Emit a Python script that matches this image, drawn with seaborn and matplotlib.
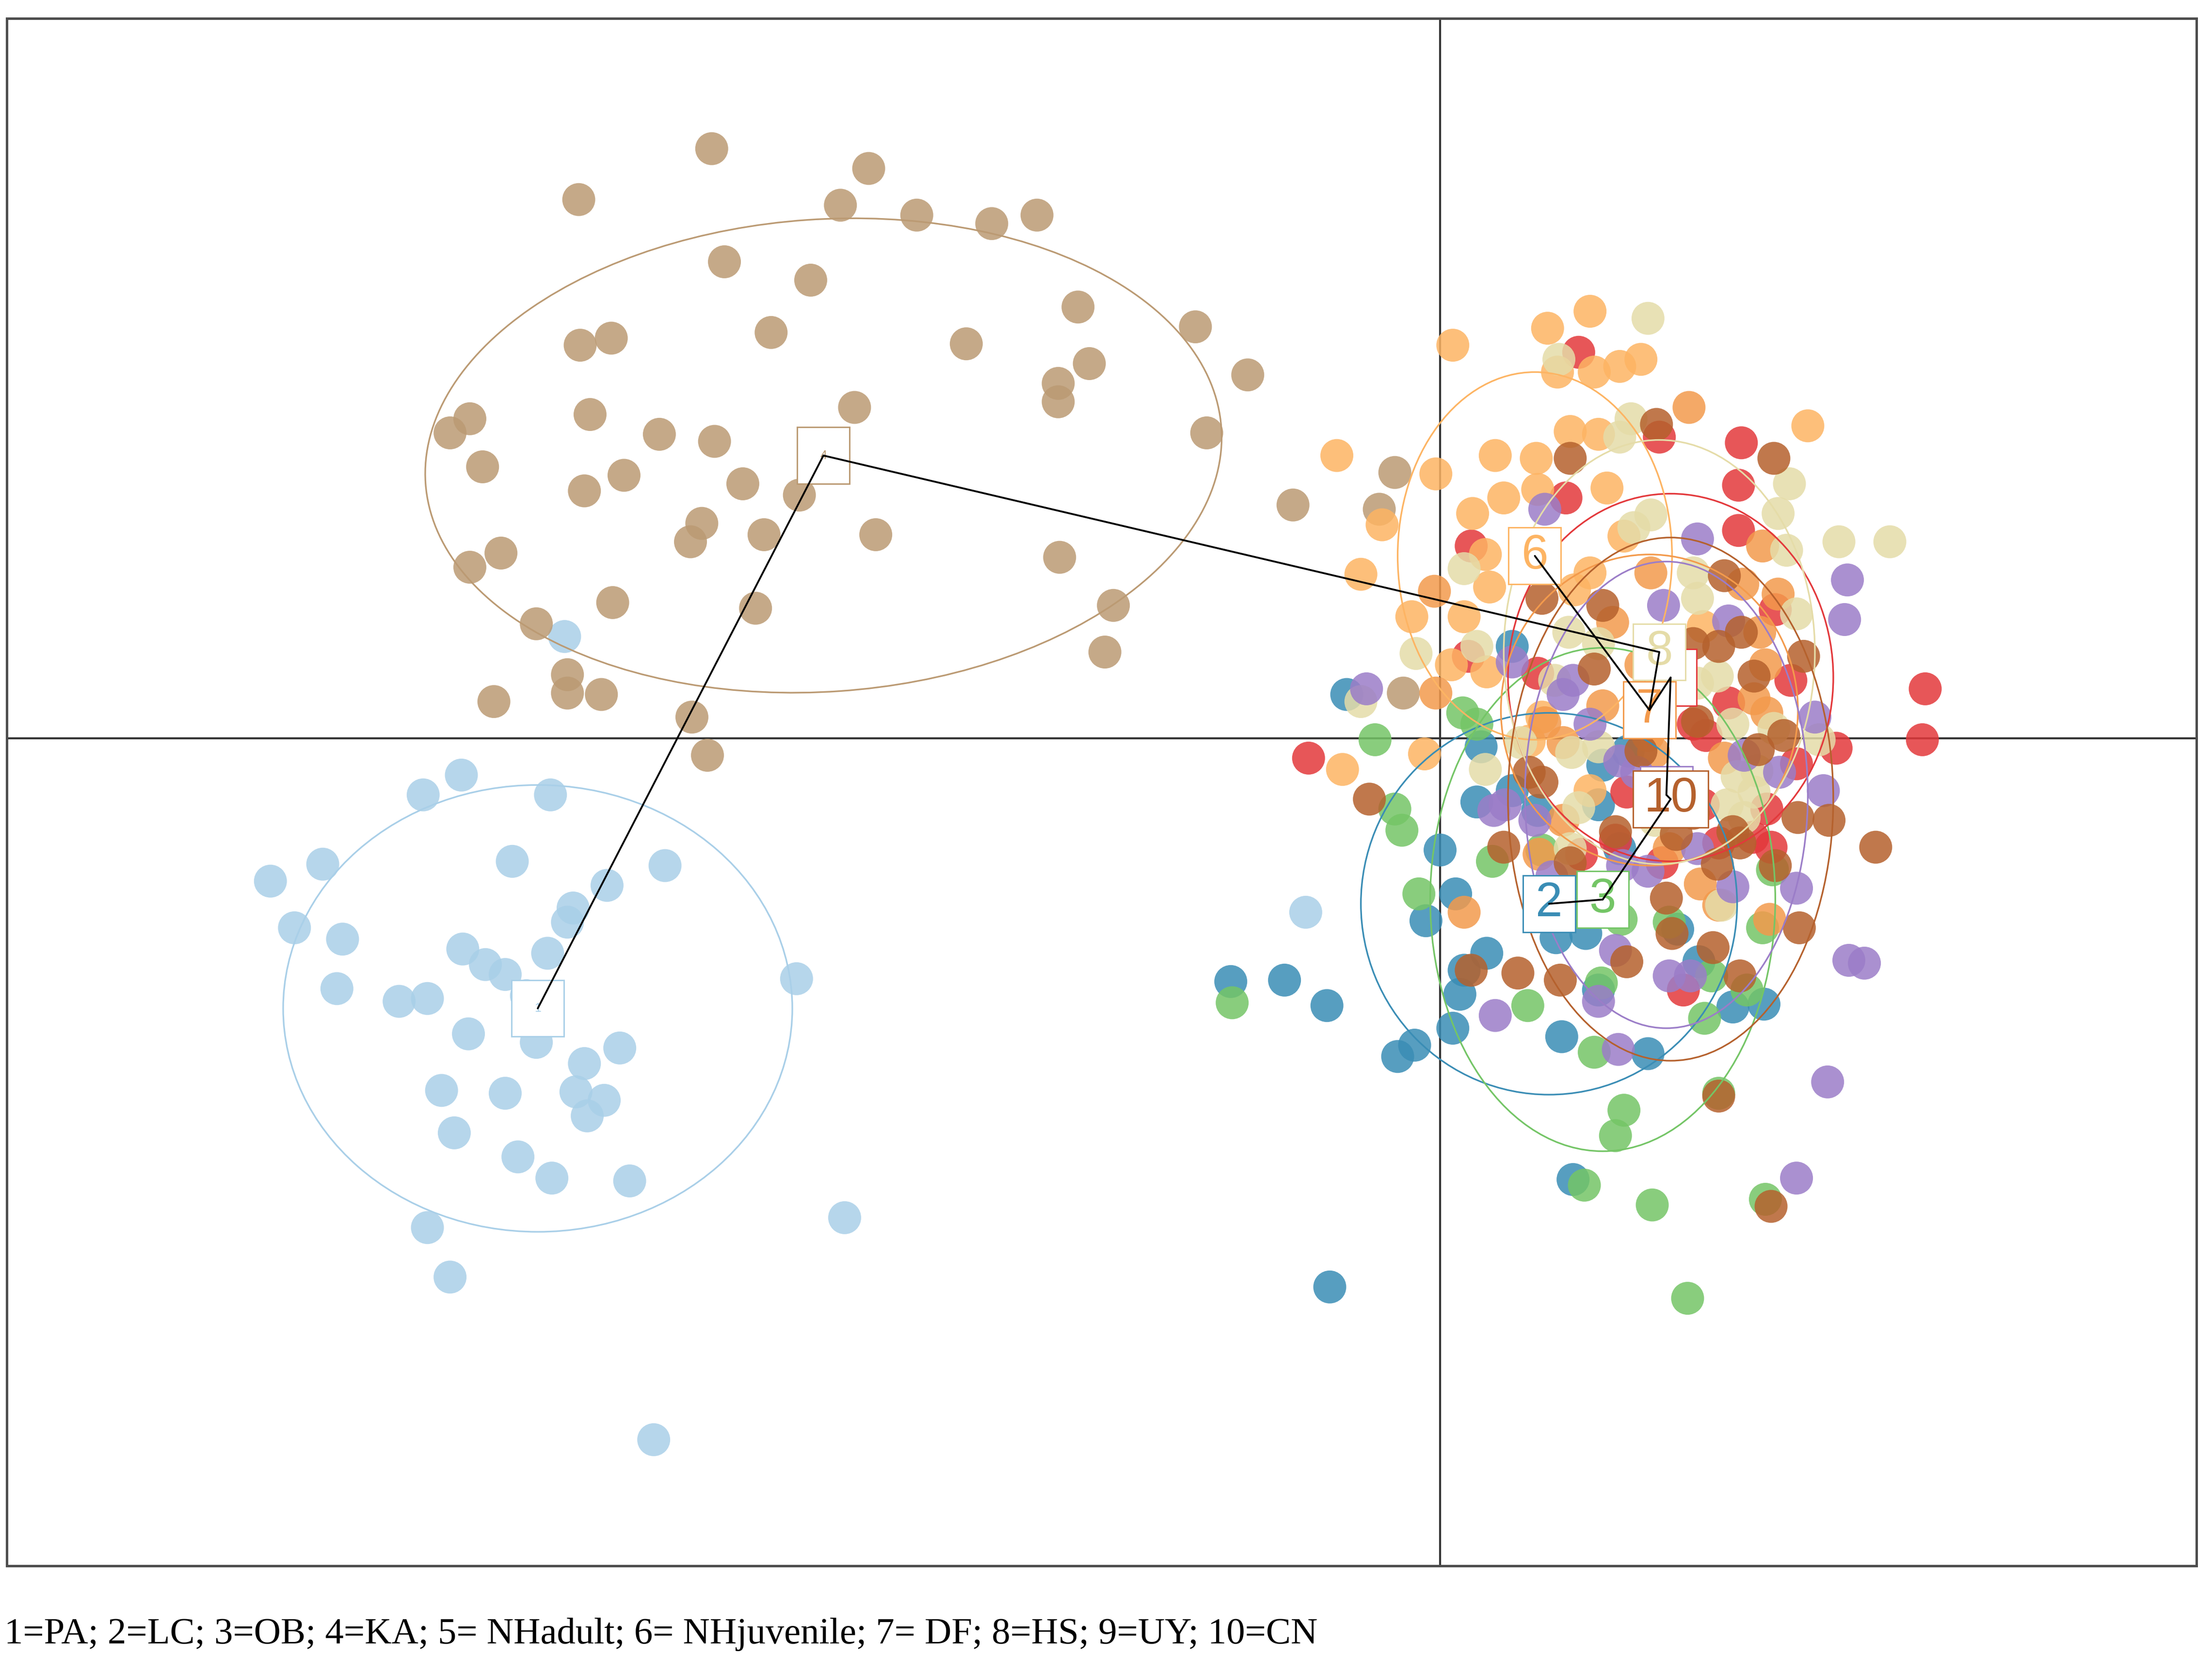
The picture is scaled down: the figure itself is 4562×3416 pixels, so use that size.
import numpy as np
import pandas as pd
import matplotlib
matplotlib.use("Agg")
import matplotlib.pyplot as plt
from matplotlib.patches import Ellipse, Rectangle
import seaborn as sns

# groupes (1..10) et couleurs
groups = ["1", "2", "3", "4", "5", "6", "7", "8", "9", "10"]
colors = ["#a9cfe8", "#3a8db5", "#74c566", "#bb9a73", "#e3383b",
          "#fdb463", "#f39a4c", "#e5dca8", "#9b7dc8", "#b5612d"]

# 1 = PA
pa_ld1 = [-6.19, -6.92, -7.19, -6.29, -8.27, -7.90, -6.56, -5.48, -5.89, -8.10,
          -7.76, -6.13, -6.17, -6.91, -6.75, -6.31, -6.61, -7.80, -7.36, -7.16,
          -6.46, -4.55, -6.87, -6.39, -5.80, -6.05, -7.06, -6.61, -6.11, -5.91,
          -6.03, -6.97, -6.52, -6.28, -5.73, -7.16, -7.00, -4.21, -5.56, -0.95]
pa_ld2 = [0.72, -0.26, -0.40, -0.40, -1.01, -0.89, -0.87, -0.90, -1.04, -1.34,
          -1.42, -1.20, -1.30, -1.49, -1.60, -1.52, -1.67, -1.77, -1.86, -1.84,
          -1.82, -1.70, -2.09, -2.15, -2.19, -2.30, -2.49, -2.51, -2.50, -2.56,
          -2.67, -2.79, -2.96, -3.11, -3.13, -3.46, -3.81, -3.39, -4.96, -1.23]

# 2 = LC
lc_ld1 = [-0.66, 0.29, 0.51, 0.51, 0.69, 1.15, 0.26, 0.00, 0.11, -0.10,
          -1.48, -1.10, -0.80, 0.14, 0.17, 0.33, 0.82, 1.03, 1.12, -0.18,
          -0.30, 0.09, 0.86, 2.29, 2.07, 1.47, 0.94, -0.78, 1.83, 1.27,
          1.12, 1.33, 1.68]
lc_ld2 = [0.31, -0.06, 0.65, -0.37, -0.51, -0.19, -0.45, -0.79, -1.10, -1.29,
          -1.72, -1.71, -1.89, -1.81, -1.64, -1.52, -1.41, -1.38, -1.78, -2.17,
          -2.25, -2.05, -2.11, -1.88, -1.90, -2.23, -3.12, -3.88, -1.58, -0.78,
          -0.47, -0.09, -1.35]

# 3 = OB
ob_ld1 = [-0.46, -0.32, -0.27, 0.16, 0.26, 0.72, 0.37, -0.15, 0.62, 1.14,
          1.28, 1.62, 2.35, -1.47, 1.09, 1.30, 1.24, 1.97, 1.50, 1.02,
          1.75, 1.92, 2.17, 1.87, 2.28, 2.30]
ob_ld2 = [-0.01, -0.50, -0.65, 0.18, 0.10, -0.79, -0.87, -1.10, -1.89, -1.73,
          -1.28, -1.30, -0.93, -1.87, -2.22, -2.63, -2.81, -2.51, -3.30, -3.16,
          -3.96, -1.68, -1.78, -1.98, -1.34, -3.26]

# 4 = KA
ka_ld1 = [-5.15, -4.04, -6.09, -4.24, -3.70, -3.17, -2.85, -5.06, -4.45, -2.56,
          -1.73, -4.73, -6.08, -5.86, -3.35, -2.48, -1.36, -2.70, -2.70, -6.86,
          -7.00, -6.01, -4.14, -5.52, -5.13, -1.65, -6.77, -6.05, -5.77, -4.93,
          -4.53, -5.22, -5.30, -4.78, -3.99, -6.64, -6.86, -2.69, -1.04, -5.85,
          -4.84, -2.31, -6.39, -2.37, -6.17, -5.93, -6.17, -6.69, -5.29, -5.18,
          -0.32, -0.43, -0.26]
ka_ld2 = [4.17, 4.03, 3.81, 3.77, 3.70, 3.64, 3.70, 3.37, 3.24, 3.05,
          2.91, 2.87, 2.78, 2.83, 2.79, 2.65, 2.57, 2.51, 2.38, 2.26,
          2.16, 2.29, 2.34, 2.15, 2.10, 2.16, 1.92, 1.75, 1.86, 1.80,
          1.72, 1.52, 1.39, 1.44, 1.44, 1.31, 1.21, 1.28, 1.65, 0.96,
          0.92, 0.94, 0.81, 0.61, 0.45, 0.31, 0.32, 0.26, 0.15, -0.12,
          1.88, 1.62, 0.32]

# 5 = NHadult
nha_ld1 = [0.98, 1.55, 2.13, 2.11, 0.89, 2.11, 0.22, 2.37, 2.48, 2.04,
           3.43, 3.41, 0.20, -0.93, 0.69, 1.79, 2.31, 1.88, 1.00, 1.97,
           2.34, 1.72, 1.57, 1.32, 2.52, 2.21, 1.24, 2.80, 1.86]
nha_ld2 = [2.73, 2.13, 2.09, 1.79, 1.70, 1.47, 1.36, 0.91, 0.41, 0.25,
           0.35, -0.01, 0.58, -0.14, 0.46, 0.10, -0.50, 0.02, -0.82, -0.74,
           -0.77, -1.78, -0.88, -0.38, -0.18, -0.70, -0.72, -0.07, -0.47]

# 6 = NHjuvenile
nhj_ld1 = [1.06, 0.76, 0.09, 1.09, 1.27, 1.42, 0.83, 2.60, 1.12, 0.92,
           -0.73, -0.41, -0.03, 0.39, 0.68, 0.23, 0.45, 0.69, 1.18, 1.30,
           0.32, 0.35, -0.56, 1.06, -0.20, 0.17, 0.08, -0.69, -0.11, 0.72,
           1.06, 0.33, 0.63, 0.95, 1.86]
nhj_ld2 = [3.02, 2.90, 2.78, 2.59, 2.63, 2.68, 2.59, 2.21, 2.15, 2.17,
           2.00, 1.51, 1.87, 2.00, 1.98, 1.59, 1.70, 1.76, 1.77, 1.43,
           1.30, 1.07, 1.16, 1.17, 0.86, 0.86, 0.52, -0.22, -0.11, 0.15,
           -0.37, 0.47, -0.02, 1.05, 0.79]

# 7 = DF
df_ld1 = [1.76, 1.49, -0.04, 2.14, 2.28, 2.30, -0.03, 2.31, 1.15, 0.87,
          2.01, 0.87, 2.39, 1.42, 1.62, 0.17, 1.97, 1.47, 1.22, 2.26,
          2.22, 1.84, 2.33, 0.70, 0.74, 1.51]
df_ld2 = [2.34, 1.17, 1.04, 1.09, 1.36, 0.52, 0.32, 0.18, 0.23, -0.03,
          -0.14, -0.58, 1.02, 0.52, -0.78, -1.23, -1.18, 0.02, 0.82, 0.75,
          0.28, -1.03, -1.28, -0.82, 0.11, -0.10]

# 8 = HS
hs_ld1 = [1.47, 0.84, 1.35, 2.47, 1.27, 1.49, 2.39, 2.82, 3.18, 2.45,
          1.37, 0.17, 1.82, 2.52, 1.82, 2.07, 2.68, 0.26, -0.17, -0.56,
          0.81, 1.12, 0.57, 1.12, 0.32, 2.10, 1.99, 1.52, 2.22, 0.92,
          1.96, 2.36, 2.24, 0.93, 0.98, 0.91, 1.79, 2.15, 2.03]
hs_ld2 = [2.97, 2.68, 2.26, 1.80, 2.13, 1.58, 1.59, 1.39, 1.39, 1.33,
          1.49, 1.20, 0.99, 0.88, 0.39, 0.10, -0.01, 0.65, 0.60, 0.26,
          0.41, 0.67, -0.03, -0.06, -0.22, -0.27, -1.18, -0.58, -0.38, -0.78,
          0.44, 0.07, -0.23, -0.10, -0.49, 0.75, 1.17, -0.56, -0.47]

# 9 = UY
uy_ld1 = [0.74, 1.82, 2.88, 2.86, 1.58, 2.04, 2.65, -0.52, 0.51, 0.94,
          1.06, 1.27, 1.39, 0.38, 2.40, 2.71, 0.87, 0.39, 1.12, 1.26,
          1.62, 1.77, 0.79, 1.24, 2.74, 2.52, 2.89, 3.00, 2.52, 2.07,
          1.29, 1.82, 2.15, 1.47, 0.67, 0.46]
uy_ld2 = [1.62, 1.41, 1.12, 0.84, 0.94, 0.83, 0.15, 0.35, 0.54, 0.41,
          0.10, -0.16, -0.24, -0.51, -0.24, -0.37, 0.31, -1.96, -1.86, -2.20,
          -1.68, -1.68, -0.98, -1.50, -2.43, -3.11, -1.57, -1.59, -1.06, -1.05,
          -0.90, -0.78, -0.12, -0.94, -0.58, -0.47]

# 10 = CN
cn_ld1 = [1.53, 2.36, 0.92, 0.72, 1.15, 2.01, 2.13, 2.57, 2.22, 1.97,
          1.79, 1.09, 2.43, 1.42, 0.63, 2.25, 2.53, 1.79, 1.24, 0.45,
          3.08, -0.50, 0.55, 0.85, 0.22, 1.60, 1.64, 2.12, 1.93, 1.97,
          2.34, 2.54, 2.75, 1.32, 2.37, 2.12, 0.92, 1.67, 1.82, 2.07,
          1.96, 0.72]
cn_ld2 = [2.22, 1.98, 1.98, 0.99, 0.94, 1.15, 0.75, 0.58, 0.44, 0.65,
          0.67, 0.49, 0.02, -0.09, -0.24, -0.08, -0.56, -0.53, -0.66, -0.77,
          -0.77, -0.43, -1.66, -1.71, -1.64, -1.13, -1.38, -1.68, -1.48, -2.53,
          -3.31, -1.34, -0.58, -1.58, -0.90, -0.74, -0.88, -0.68, 0.12, -0.66,
          -0.89, -0.31]

# centres des groupes et ellipses
cent_ld1 = [-6.38, 0.77, 1.15, -4.36, 1.63, 0.67, 1.48, 1.55, 1.60, 1.63]
cent_ld2 = [-1.91, -1.17, -1.14, 2.00, 0.43, 1.29, 0.20, 0.61, -0.40, -0.43]
ell_w = [1.80, 1.33, 1.22, 2.82, 1.15, 0.97, 1.05, 1.10, 1.00, 1.15]
ell_h = [1.58, 1.35, 1.78, 1.67, 1.30, 1.30, 1.10, 1.50, 1.65, 1.85]
ell_angle = [0, 0, 0, 4, 0, 0, 0, 0, 0, 0]

# arbre couvrant minimal (indices des groupes)
mst_edges = [(1, 4), (4, 8), (8, 7), (6, 7), (7, 5), (5, 9), (9, 10), (10, 3), (3, 2)]

legend_txt = "1=PA; 2=LC; 3=OB; 4=KA; 5= NHadult; 6= NHjuvenile; 7= DF; 8=HS; 9=UY; 10=CN"

all_ld1 = [pa_ld1, lc_ld1, ob_ld1, ka_ld1, nha_ld1, nhj_ld1, df_ld1, hs_ld1, uy_ld1, cn_ld1]
all_ld2 = [pa_ld2, lc_ld2, ob_ld2, ka_ld2, nha_ld2, nhj_ld2, df_ld2, hs_ld2, uy_ld2, cn_ld2]

rows = []
for g, xs, ys in zip(groups, all_ld1, all_ld2):
    for a, b in zip(xs, ys):
        rows.append({"LD1": a, "LD2": b, "group": g})
df = pd.DataFrame(rows)

sns.set_style("white")
plt.rcParams['font.family'] = ['Liberation Sans', 'DejaVu Sans']

fig = plt.figure(figsize=(4562 / 300, 3416 / 300), dpi=300)
ax = fig.add_axes([14 / 4562, 1 - 3230 / 3416, 4516 / 4562, 3192 / 3416])

ax.axhline(0, color="#333333", lw=1.0, zorder=1)
ax.axvline(0, color="#333333", lw=1.0, zorder=1)

sns.scatterplot(data=df, x="LD1", y="LD2", hue="group", hue_order=groups,
                palette=colors, s=266, alpha=0.85, linewidth=0, legend=False,
                ax=ax, zorder=2)

for i in range(len(groups)):
    e = Ellipse((cent_ld1[i], cent_ld2[i]), 2 * ell_w[i], 2 * ell_h[i],
                angle=ell_angle[i], fill=False, edgecolor=colors[i], lw=0.8, zorder=3)
    ax.add_patch(e)

# etiquettes des groupes (5 et 9 sont cachees sous les autres boites)
label_size = [6, 24, 24, 6, 24, 24, 24, 24, 24, 24]
hidden = ["5", "9"]
for i, g in enumerate(groups):
    w = 0.53 if len(g) > 1 else 0.37
    h = 0.40
    r = Rectangle((cent_ld1[i] - w / 2, cent_ld2[i] - h / 2), w, h,
                  facecolor="white", edgecolor=colors[i], lw=0.7, zorder=5 + i * 0.1)
    ax.add_patch(r)
    if g not in hidden:
        ax.text(cent_ld1[i], cent_ld2[i], g, color=colors[i], fontsize=label_size[i],
                ha="center", va="center", zorder=5.05 + i * 0.1)

for a, b in mst_edges:
    ax.plot([cent_ld1[a - 1], cent_ld1[b - 1]], [cent_ld2[a - 1], cent_ld2[b - 1]],
            color="black", lw=0.9, zorder=7)

ax.set_xlim(-10.134, 5.348)
ax.set_ylim(-5.852, 5.091)
ax.set_xticks([])
ax.set_yticks([])
ax.set_xlabel("")
ax.set_ylabel("")
for sp in ax.spines.values():
    sp.set_color("#4d4d4d")
    sp.set_linewidth(1.2)
    sp.set_visible(True)

fig.text(0.002, 0.0076, legend_txt, family="Liberation Serif", fontsize=18.4,
         ha="left", va="baseline", color="black")

fig.savefig("out.png", dpi=300, facecolor="white")
